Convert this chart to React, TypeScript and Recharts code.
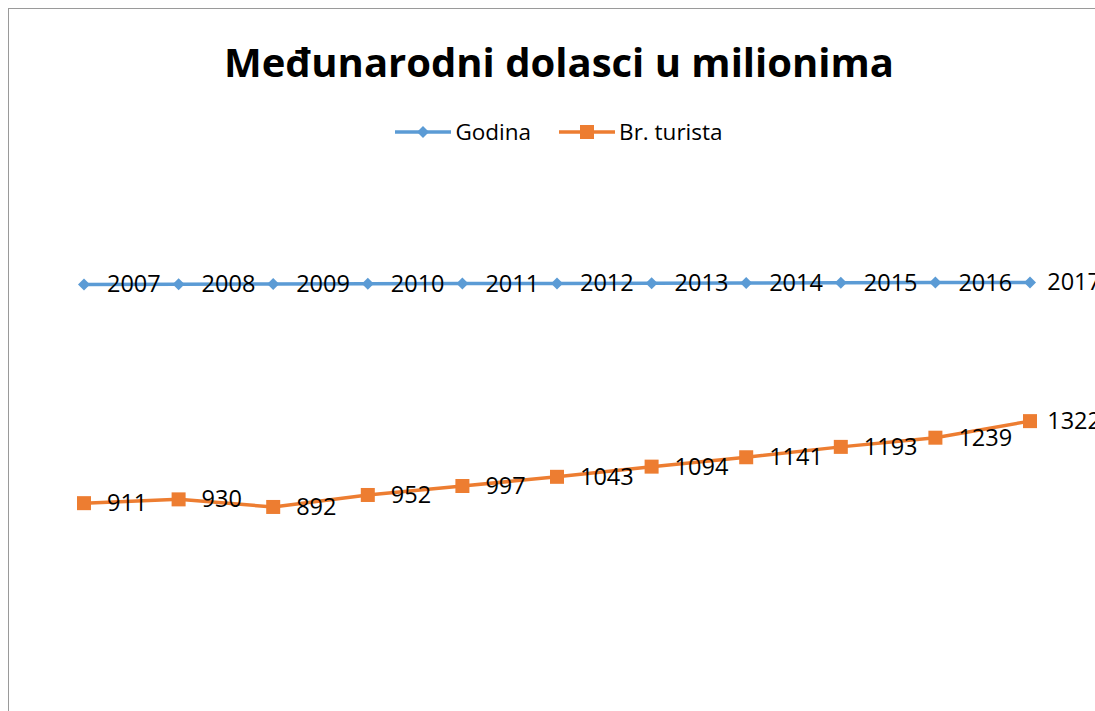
import React from 'react';
import { LineChart, Line, XAxis, YAxis, LabelList } from 'recharts';

const years = ['2007', '2008', '2009', '2010', '2011', '2012', '2013', '2014', '2015', '2016', '2017'];
const godina = [2007, 2008, 2009, 2010, 2011, 2012, 2013, 2014, 2015, 2016, 2017];
const turisti = [911, 930, 892, 952, 997, 1043, 1094, 1141, 1193, 1239, 1322];

const BLUE = '#5B9BD5';
const ORANGE = '#ED7D31';
const FONT = '"Open Sans", "Noto Sans", sans-serif';
const CHART_W = 1100;
const LABEL_SIZE = 23.5;

const data = years.map((y, i) => ({ year: y, godina: godina[i], turisti: turisti[i] }));

const Diamond = (props: any) => {
  const { cx, cy } = props;
  if (cx == null || cy == null) return null;
  return <polygon points={`${cx},${cy - 6} ${cx + 6},${cy} ${cx},${cy + 6} ${cx - 6},${cy}`} fill={BLUE} />;
};

const Square = (props: any) => {
  const { cx, cy } = props;
  if (cx == null || cy == null) return null;
  return <rect x={cx - 7} y={cy - 7} width={14} height={14} fill={ORANGE} />;
};

// labels sit right of the point, but are pushed back inside the chart box like Excel does
const RightLabel = (props: any) => {
  const { x, y, value } = props;
  const w = String(value).length * 0.572 * LABEL_SIZE;
  const tx = Math.min(x + 23, CHART_W - 8 - w);
  return (
    <text x={tx} y={y - 1} dominantBaseline="central" fontSize={LABEL_SIZE} fill="#000" fontFamily={FONT}>
      {value}
    </text>
  );
};

const LegendBox = () => (
  <div
    style={{
      position: 'absolute',
      top: 107,
      left: 0,
      width: CHART_W,
      display: 'flex',
      justifyContent: 'center',
      alignItems: 'center',
      fontFamily: FONT,
      fontSize: 22.5,
      color: '#000',
    }}
  >
    <svg width={56} height={16}>
      <line x1={0} y1={8} x2={56} y2={8} stroke={BLUE} strokeWidth={3.5} />
      <polygon points="28,2 34,8 28,14 22,8" fill={BLUE} />
    </svg>
    <span style={{ marginLeft: 4, marginRight: 28 }}>Godina</span>
    <svg width={56} height={16}>
      <line x1={0} y1={8} x2={56} y2={8} stroke={ORANGE} strokeWidth={3.5} />
      <rect x={21} y={1} width={14} height={14} fill={ORANGE} />
    </svg>
    <span style={{ marginLeft: 4 }}>Br. turista</span>
  </div>
);

export default function App() {
  return (
    <>
      <style>{`html{overflow:hidden;} body{margin:0;padding:8px 0 0 8px;}`}</style>
      <div
        style={{
          position: 'relative',
          width: 1087,
          height: 703,
          overflow: 'hidden',
          borderTop: '1px solid #9a9a9a',
          borderLeft: '1px solid #9a9a9a',
          background: '#fff',
        }}
      >
        <div
          style={{
            position: 'absolute',
            top: 25,
            left: 0,
            width: CHART_W,
            textAlign: 'center',
            fontFamily: FONT,
            fontWeight: 700,
            fontSize: 40,
            color: '#000',
          }}
        >
          Međunarodni dolasci u milionima
        </div>
        <LegendBox />
        <LineChart width={CHART_W} height={760} data={data} margin={{ top: 177, right: 79, bottom: 84, left: 75 }}>
          <XAxis dataKey="year" hide />
          <YAxis hide domain={[0, 2500]} />
          <Line
            type="linear"
            dataKey="godina"
            name="Godina"
            stroke={BLUE}
            strokeWidth={3.5}
            dot={<Diamond />}
            activeDot={false}
            isAnimationActive={false}
          >
            <LabelList dataKey="godina" content={<RightLabel />} />
          </Line>
          <Line
            type="linear"
            dataKey="turisti"
            name="Br. turista"
            stroke={ORANGE}
            strokeWidth={3.5}
            dot={<Square />}
            activeDot={false}
            isAnimationActive={false}
          >
            <LabelList dataKey="turisti" content={<RightLabel />} />
          </Line>
        </LineChart>
      </div>
    </>
  );
}
